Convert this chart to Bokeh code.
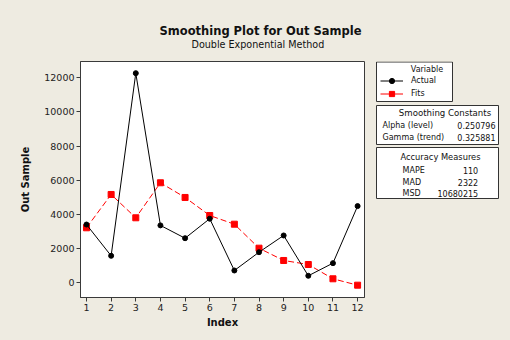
from bokeh.plotting import figure
from bokeh.layouts import row
from bokeh.models import Range1d, Label, BoxAnnotation, Legend, LegendItem, FixedTicker, Title
from bokeh.embed import file_html
from bokeh.resources import INLINE

# ---- data ----
index = [1, 2, 3, 4, 5, 6, 7, 8, 9, 10, 11, 12]
actual = [3410, 1580, 12270, 3360, 2610, 3750, 720, 1790, 2770, 410, 1150, 4490]
fits = [3220, 5170, 3805, 5855, 4995, 3940, 3430, 2026, 1306, 1071, 234, -140]
y_ticks = [0, 2000, 4000, 6000, 8000, 10000, 12000]

title_text = "Smoothing Plot for Out Sample"
subtitle_text = "Double Exponential Method"
const_names = ["Alpha (level)", "Gamma (trend)"]
const_values = ["0.250796", "0.325881"]
acc_names = ["MAPE", "MAD", "MSD"]
acc_values = ["110", "2322", "10680215"]

BG = "#EEEBE1"
FONT = "DejaVu Sans"
EDGE = "#3a3a3a"
NAN = float("nan")

# ---- main plot ----
p = figure(width=370, height=340, title=None,
           x_range=Range1d(0.757, 12.28), y_range=Range1d(-861, 12954),
           output_backend="svg", toolbar_location=None,
           min_border_left=80, min_border_right=6,
           min_border_top=61, min_border_bottom=43,
           background_fill_color="white", border_fill_color=BG)
p.outline_line_color = EDGE
p.outline_line_width = 1
p.grid.visible = False

p.add_layout(Title(text=subtitle_text, align="left", offset=111, text_font=FONT,
                   text_font_size="9.6px", text_font_style="normal",
                   text_color="#111111", standoff=24), "above")
p.add_layout(Title(text=title_text, align="left", offset=79, text_font=FONT,
                   text_font_size="11.5px", text_font_style="bold",
                   text_color="#111111", standoff=-27, text_line_height=0.9), "above")

p.xaxis.ticker = FixedTicker(ticks=index)
p.yaxis.ticker = FixedTicker(ticks=y_ticks)
for ax in (p.xaxis[0], p.yaxis[0]):
    ax.axis_line_color = EDGE
    ax.major_tick_line_color = EDGE
    ax.minor_tick_line_color = None
    ax.major_tick_in = 0
    ax.major_tick_out = 4
    ax.major_label_text_font = FONT
    ax.major_label_text_font_size = "9.5px"
    ax.major_label_text_color = "#222222"
    ax.axis_label_text_font = FONT
    ax.axis_label_text_font_size = "10px"
    ax.axis_label_text_font_style = "bold"
    ax.axis_label_text_color = "#111111"
p.xaxis.axis_label = "Index"
p.yaxis.axis_label = "Out Sample"
p.xaxis.major_label_standoff = 2
p.xaxis.axis_label_standoff = 3
p.yaxis.major_label_standoff = 2
p.yaxis.axis_label_standoff = 10

p.line(index, fits, line_color="red", line_dash="6 3", line_width=1)
p.scatter(index, fits, marker="square", size=6, color="red")
p.line(index, actual, line_color="black", line_width=1)
p.scatter(index, actual, marker="circle", size=5, color="black")

# ---- side panel: frame is aligned with the main frame (y 61..297), pixel-like coords ----
q = figure(width=140, height=340, x_range=Range1d(370, 510), y_range=Range1d(297, 61),
           x_axis_type=None, y_axis_type=None, min_border=0,
           output_backend="svg", toolbar_location=None,
           background_fill_color=BG, border_fill_color=BG, outline_line_color=None)


def box(x0, y0, x1, y1):
    q.add_layout(BoxAnnotation(left=x0, right=x1, top=y0, bottom=y1,
                               fill_color="white", fill_alpha=1,
                               line_color="#333333", line_width=1, line_alpha=1))


def lab(text, x, y, align="left", size="8px"):
    q.add_layout(Label(x=x, y=y, text=text, text_align=align, text_baseline="middle",
                       text_font=FONT, text_font_size=size, text_color="#111111"))


box(376, 61.5, 452, 101)
box(376, 105, 498, 144)
box(376, 147, 498, 198)

lab("Variable", 426.5, 69, "center", "8px")
lab("Smoothing Constants", 444.5, 112, "center", "8.6px")
for i, (n, v) in enumerate(zip(const_names, const_values)):
    lab(n, 382, 125 + 12 * i)
    lab(v, 495, 125 + 12 * i, "right")
lab("Accuracy Measures", 440, 156.7, "center", "8.3px")
for i, (n, v) in enumerate(zip(acc_names, acc_values)):
    lab(n, 402, 170 + 11.7 * i)
    lab(v, 477.7, 170 + 11.7 * i, "right")

# legend keys (NaN data: nothing is drawn in the panel itself)
la = q.line(x=[NAN], y=[NAN], line_color="black", line_width=1)
ls = q.scatter(x=[NAN], y=[NAN], marker="circle", color="black")
fa = q.line(x=[NAN], y=[NAN], line_color="red", line_width=1)
fs = q.scatter(x=[NAN], y=[NAN], marker="square", color="red")
legend = Legend(items=[LegendItem(label="Actual", renderers=[la, ls]),
                       LegendItem(label="Fits", renderers=[fa, fs])],
                location=(10, 196.8), padding=0, margin=0, spacing=0,
                glyph_height=13, glyph_width=23, label_height=13, label_standoff=8,
                label_text_font=FONT, label_text_font_size="8px",
                label_text_color="#111111",
                border_line_color=None, background_fill_alpha=0)
q.add_layout(legend)

layout = row(p, q, spacing=0, styles={"background-color": BG})
open("out.html", "w").write(file_html(layout, INLINE))
